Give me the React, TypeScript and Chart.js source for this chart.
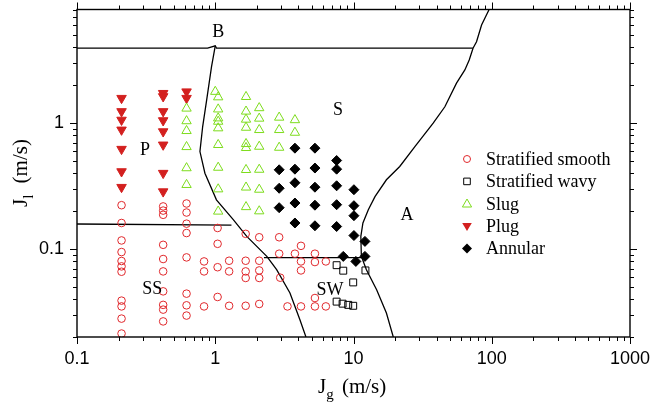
import React, { useEffect, useRef } from 'react';
import { Chart, registerables } from 'chart.js';

Chart.register(...registerables);

const SERIF = '"Liberation Serif", "Times New Roman", serif';
const SANS = '"Liberation Sans", Arial, sans-serif';

// ---- axis ticks ----
const xTickValues = [0.1, 0.2, 0.3, 0.4, 0.5, 0.6, 0.7, 0.8, 0.9, 1, 2, 3, 4, 5, 6, 7, 8, 9, 10, 20, 30, 40, 50, 60, 70, 80, 90, 100, 200, 300, 400, 500, 600, 700, 800, 900, 1000];
const yTickValues = [0.02, 0.03, 0.04, 0.05, 0.06, 0.07, 0.08, 0.09, 0.1, 0.2, 0.3, 0.4, 0.5, 0.6, 0.7, 0.8, 0.9, 1, 2, 3, 4, 5, 6, 7, 8];
const xTickLabels = [0.1, 1, 10, 100, 1000];
const yTickLabels = [0.1, 1];

// ---- data series [Jg, Jl] ----
const stratifiedSmooth = [
  [0.21, 0.223], [0.21, 0.161], [0.21, 0.117], [0.21, 0.0946], [0.21, 0.0803], [0.21, 0.0728], [0.21, 0.066], [0.21, 0.0389], [0.21, 0.035], [0.21, 0.028], [0.21, 0.0213],
  [0.42, 0.218], [0.42, 0.202], [0.42, 0.187], [0.42, 0.108], [0.42, 0.0833], [0.42, 0.0664], [0.42, 0.0461], [0.42, 0.036], [0.42, 0.033], [0.42, 0.0266],
  [0.62, 0.23], [0.62, 0.195], [0.62, 0.159], [0.62, 0.134], [0.62, 0.0858], [0.62, 0.0442], [0.62, 0.0357], [0.62, 0.0296],
  [0.83, 0.0797], [0.83, 0.0664], [0.83, 0.035],
  [1.04, 0.147], [1.04, 0.11], [1.04, 0.0717], [1.04, 0.0416],
  [1.26, 0.0807], [1.26, 0.0664], [1.26, 0.0354],
  [1.66, 0.132], [1.66, 0.0807], [1.66, 0.0664], [1.66, 0.0589], [1.66, 0.0354],
  [2.08, 0.124], [2.08, 0.0807], [2.08, 0.0676], [2.08, 0.0589], [2.08, 0.0366],
  [2.9, 0.124], [2.9, 0.0918], [2.95, 0.0592],
  [3.33, 0.035], [3.77, 0.0918],
  [4.17, 0.106], [4.17, 0.0797], [4.17, 0.0676], [4.17, 0.035],
  [5.26, 0.0918], [5.26, 0.0788], [5.26, 0.0408], [5.26, 0.035],
  [6.31, 0.0797], [6.31, 0.035],
];
const stratifiedWavy = [
  [7.55, 0.0744], [8.43, 0.0673], [9.95, 0.0543], [12.2, 0.0676],
  [7.55, 0.0382], [8.34, 0.0368], [9.16, 0.036], [9.95, 0.0354],
];
const slug = [
  [0.62, 1.31], [0.62, 1.04], [0.62, 0.869], [0.62, 0.648], [0.62, 0.44], [0.62, 0.324],
  [1.0, 1.78], [1.05, 1.61], [1.05, 1.29], [1.05, 1.095], [1.05, 1.03], [1.05, 0.913], [1.05, 0.673], [1.05, 0.444], [1.05, 0.299], [1.05, 0.199],
  [1.67, 1.62], [1.67, 1.24], [1.67, 1.07], [1.67, 0.923], [1.67, 0.685], [1.67, 0.637], [1.67, 0.426], [1.67, 0.309], [1.67, 0.216],
  [2.08, 1.32], [2.08, 1.09], [2.08, 0.885], [2.08, 0.652], [2.08, 0.428], [2.08, 0.297], [2.08, 0.2],
  [2.9, 1.11], [2.9, 0.885], [2.9, 0.64],
  [3.77, 1.06], [3.77, 0.842],
];
const plug = [
  [0.21, 1.58], [0.21, 1.24], [0.21, 1.06], [0.21, 0.885], [0.21, 0.622], [0.21, 0.413], [0.21, 0.31],
  [0.42, 1.73], [0.42, 1.63], [0.42, 1.24], [0.42, 1.05], [0.42, 0.858], [0.42, 0.673], [0.42, 0.401], [0.42, 0.286],
  [0.62, 1.78], [0.62, 1.58],
];
const annular = [
  [2.9, 0.426], [2.9, 0.304], [2.9, 0.213],
  [3.77, 0.633], [3.77, 0.431], [3.77, 0.336], [3.77, 0.232], [3.77, 0.161],
  [5.26, 0.633], [5.26, 0.44], [5.26, 0.31], [5.26, 0.223], [5.26, 0.153],
  [7.55, 0.505], [7.55, 0.431], [7.55, 0.318], [7.55, 0.225], [7.55, 0.151],
  [8.43, 0.0874],
  [10.07, 0.296], [10.07, 0.221], [10.07, 0.184], [10.07, 0.128],
  [12.1, 0.115], [12.1, 0.0874], [10.4, 0.0797],
];

// ---- regime boundaries ----
const boundaryTop = [[0.1, 3.95], [0.88, 3.95], [1.0, 4.12], [1.02, 3.95], [73, 3.95]];
const boundaryB = [[1.0, 4.12], [0.94, 2.81], [0.867, 1.53], [0.811, 0.94], [0.775, 0.595], [0.842, 0.4], [1.02, 0.246], [1.35, 0.171], [1.69, 0.126], [2.36, 0.0874], [2.78, 0.0685], [3.47, 0.0448], [4.09, 0.0275], [4.53, 0.02]];
const boundaryP = [[0.1, 0.158], [1.31, 0.155]];
const boundarySW = [[2.25, 0.0855], [11.4, 0.0855]];
const boundaryA = [[95.7, 8], [84.4, 6.03], [77.6, 4.44], [73.2, 3.94], [68.7, 3.18], [63.9, 2.65], [55.6, 2.08], [45.8, 1.35], [37.7, 1.0], [27.8, 0.652], [21.6, 0.453], [17.3, 0.355], [14.3, 0.261], [12.8, 0.205], [11.7, 0.161], [11.3, 0.126], [11.4, 0.0874], [12.4, 0.0685], [14.7, 0.0475], [17.3, 0.031], [19.4, 0.02]];

const regionText = ['B', 'S', 'P', 'SS', 'SW', 'A'];
const regionX = [1.05, 7.71, 0.31, 0.35, 6.75, 24.4];
const regionY = [5.3, 1.27, 0.614, 0.0482, 0.047, 0.184];

const legendNames = ['Stratified smooth', 'Stratified wavy', 'Slug', 'Plug', 'Annular'];

const RED = '#e0282c';
const PLUG_RED = '#d3201f';
const GREEN = '#7ddc1c';
const BLACK = '#000000';

const toXY = (arr: number[][]) => arr.map(([x, y]) => ({ x, y }));

function drawMarker(ctx: CanvasRenderingContext2D, kind: string, x: number, y: number) {
  ctx.save();
  ctx.lineWidth = 1;
  ctx.beginPath();
  if (kind === 'circle') {
    ctx.strokeStyle = RED;
    ctx.arc(x, y, 3.5, 0, Math.PI * 2);
    ctx.stroke();
  } else if (kind === 'square') {
    ctx.strokeStyle = BLACK;
    ctx.rect(x - 3.3, y - 3.3, 6.6, 6.6);
    ctx.stroke();
  } else if (kind === 'tri') {
    ctx.strokeStyle = GREEN;
    ctx.moveTo(x, y - 4.8);
    ctx.lineTo(x + 4.6, y + 3.2);
    ctx.lineTo(x - 4.6, y + 3.2);
    ctx.closePath();
    ctx.stroke();
  } else if (kind === 'tridown') {
    ctx.fillStyle = PLUG_RED;
    ctx.moveTo(x, y + 4.8);
    ctx.lineTo(x + 4.8, y - 3.2);
    ctx.lineTo(x - 4.8, y - 3.2);
    ctx.closePath();
    ctx.fill();
  } else {
    ctx.fillStyle = BLACK;
    ctx.moveTo(x, y - 5);
    ctx.lineTo(x + 5, y);
    ctx.lineTo(x, y + 5);
    ctx.lineTo(x - 5, y);
    ctx.closePath();
    ctx.fill();
  }
  ctx.restore();
}

const decorPlugin = {
  id: 'decor',
  afterDraw(chart: any) {
    const ctx: CanvasRenderingContext2D = chart.ctx;
    const { left, right, top, bottom } = chart.chartArea;
    const xs = chart.scales.x;
    const ys = chart.scales.y;
    ctx.save();
    ctx.strokeStyle = '#000';
    ctx.lineWidth = 1.4;
    ctx.strokeRect(left, top, right - left, bottom - top);
    ctx.lineWidth = 1;
    ctx.beginPath();
    xTickValues.forEach((v) => {
      const px = Math.round(xs.getPixelForValue(v)) + 0.5;
      const major = xTickLabels.includes(v);
      const len = major ? 7 : 4;
      ctx.moveTo(px, bottom);
      ctx.lineTo(px, bottom + len);
      ctx.moveTo(px, top);
      ctx.lineTo(px, top - len);
    });
    yTickValues.forEach((v) => {
      const py = Math.round(ys.getPixelForValue(v)) + 0.5;
      const major = yTickLabels.includes(v);
      const len = major ? 7 : 4;
      ctx.moveTo(left, py);
      ctx.lineTo(left - len, py);
      ctx.moveTo(right, py);
      ctx.lineTo(right + len, py);
    });
    ctx.stroke();

    // region labels
    ctx.fillStyle = '#000';
    ctx.font = `18px ${SERIF}`;
    ctx.textAlign = 'center';
    ctx.textBaseline = 'middle';
    regionText.forEach((t, i) => {
      ctx.fillText(t, xs.getPixelForValue(regionX[i]), ys.getPixelForValue(regionY[i]));
    });

    // legend
    const kinds = ['circle', 'square', 'tri', 'tridown', 'diamond'];
    ctx.textAlign = 'left';
    ctx.font = `18px ${SERIF}`;
    legendNames.forEach((name, i) => {
      const ly = 159 + i * 22.4;
      drawMarker(ctx, kinds[i], 467, ly);
      ctx.fillStyle = '#000';
      ctx.fillText(name, 486, ly + 1);
    });

    // x title
    ctx.textBaseline = 'alphabetic';
    ctx.font = `21px ${SERIF}`;
    let tx = 318;
    const ty = 393;
    ctx.fillText('J', tx, ty);
    tx += ctx.measureText('J').width;
    ctx.font = `15px ${SERIF}`;
    ctx.fillText('g', tx, ty + 6);
    tx += ctx.measureText('g').width;
    ctx.font = `21px ${SERIF}`;
    ctx.fillText(' (m/s)', tx + 3, ty);

    // y title
    ctx.save();
    ctx.translate(27, 207);
    ctx.rotate(-Math.PI / 2);
    let sx = 0;
    ctx.font = `21px ${SERIF}`;
    ctx.fillText('J', sx, 0);
    sx += ctx.measureText('J').width;
    ctx.font = `15px ${SERIF}`;
    ctx.fillText('l', sx, 6);
    sx += ctx.measureText('l').width;
    ctx.font = `21px ${SERIF}`;
    ctx.fillText(' (m/s)', sx + 6, 0);
    ctx.restore();

    ctx.restore();
  },
};

export default function App() {
  const ref = useRef<HTMLCanvasElement | null>(null);

  useEffect(() => {
    if (!ref.current) return;
    const pointBase = { showLine: false, pointBorderWidth: 1, pointHoverRadius: 0 };
    const lineBase = { showLine: true, pointRadius: 0, borderColor: '#000', borderWidth: 1.3, tension: 0, fill: false };
    const chart = new Chart(ref.current, {
      type: 'scatter',
      data: {
        datasets: [
          { ...pointBase, label: 'Stratified smooth', data: toXY(stratifiedSmooth), pointStyle: 'circle', pointRadius: 3.8, borderColor: RED, backgroundColor: 'rgba(0,0,0,0)' },
          { ...pointBase, label: 'Stratified wavy', data: toXY(stratifiedWavy), pointStyle: 'rect', pointRadius: 4.9, borderColor: BLACK, backgroundColor: 'rgba(0,0,0,0)' },
          { ...pointBase, label: 'Slug', data: toXY(slug), pointStyle: 'triangle', pointRadius: 5.4, borderColor: GREEN, backgroundColor: 'rgba(0,0,0,0)' },
          { ...pointBase, label: 'Plug', data: toXY(plug), pointStyle: 'triangle', pointRotation: 180, pointRadius: 5.5, borderColor: PLUG_RED, backgroundColor: PLUG_RED },
          { ...pointBase, label: 'Annular', data: toXY(annular), pointStyle: 'rectRot', pointRadius: 5, borderColor: BLACK, backgroundColor: BLACK },
          { ...lineBase, label: 'b1', data: toXY(boundaryTop) },
          { ...lineBase, label: 'b2', data: toXY(boundaryB) },
          { ...lineBase, label: 'b3', data: toXY(boundaryP) },
          { ...lineBase, label: 'b4', data: toXY(boundarySW) },
          { ...lineBase, label: 'b5', data: toXY(boundaryA) },
        ] as any,
      },
      options: {
        animation: false,
        responsive: true,
        maintainAspectRatio: false,
        layout: { padding: { top: 9.5, right: 22, left: 0, bottom: 0 } },
        plugins: { legend: { display: false }, tooltip: { enabled: false }, title: { display: false } },
        scales: {
          x: {
            type: 'logarithmic',
            min: 0.1,
            max: 1000,
            afterBuildTicks: (s: any) => { s.ticks = xTickValues.map((v) => ({ value: v })); },
            afterFit: (s: any) => { s.height = 72; s.paddingLeft = 0; s.paddingRight = 0; },
            grid: { display: true, drawOnChartArea: false, drawTicks: true, tickLength: 7, color: 'rgba(0,0,0,0)' },
            border: { display: false },
            ticks: {
              autoSkip: false,
              maxRotation: 0,
              padding: 4,
              color: '#000',
              font: { family: SANS, size: 18 },
              callback: (v: any) => (xTickLabels.includes(Number(v)) ? String(v) : ''),
            },
          },
          y: {
            type: 'logarithmic',
            min: 0.02,
            max: 8,
            afterBuildTicks: (s: any) => { s.ticks = yTickValues.map((v) => ({ value: v })); },
            afterFit: (s: any) => { s.width = 77; s.paddingTop = 0; s.paddingBottom = 0; },
            grid: { display: true, drawOnChartArea: false, drawTicks: true, tickLength: 7, color: 'rgba(0,0,0,0)' },
            border: { display: false },
            ticks: {
              autoSkip: false,
              padding: 6,
              color: '#000',
              font: { family: SANS, size: 18 },
              callback: (v: any) => (yTickLabels.includes(Number(v)) ? String(v) : ''),
            },
          },
        },
      },
      plugins: [decorPlugin],
    } as any);
    return () => chart.destroy();
  }, []);

  return (
    <div style={{ position: 'fixed', left: 0, top: 0, width: 652, height: 409, background: '#fff' }}>
      <canvas ref={ref} />
    </div>
  );
}
